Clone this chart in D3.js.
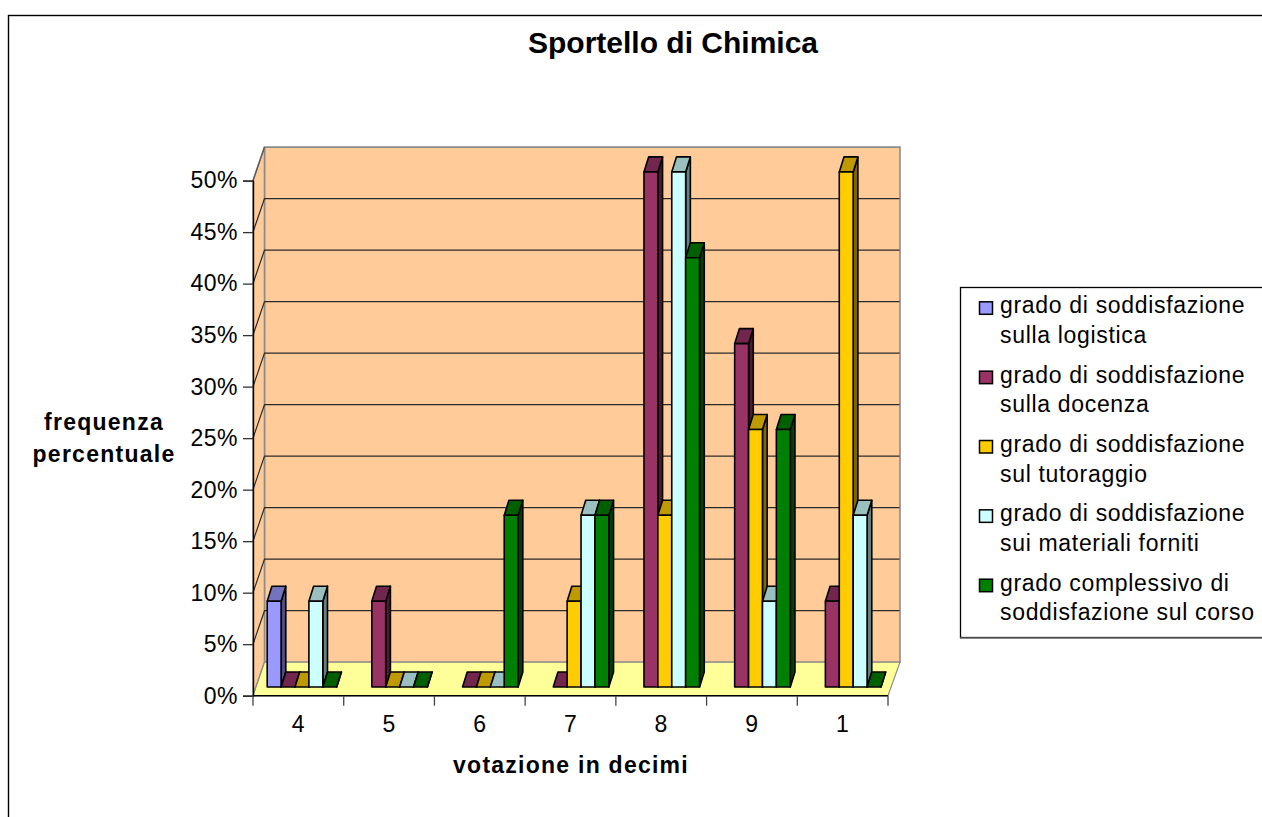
<!DOCTYPE html>
<html><head><meta charset="utf-8">
<script src="https://cdnjs.cloudflare.com/ajax/libs/d3/7.8.5/d3.min.js"></script>
<style>html,body{margin:0;padding:0;background:#fff;overflow:hidden}svg{display:block}text{font-family:"Liberation Sans",Arial,sans-serif;fill:#000}</style>
</head><body><svg id="c" width="1262" height="817"></svg>
<script>
const categories = ["4","5","6","7","8","9","1"];
const seriesNames = [
  ["grado di soddisfazione","sulla logistica"],
  ["grado di soddisfazione","sulla docenza"],
  ["grado di soddisfazione","sul tutoraggio"],
  ["grado di soddisfazione","sui materiali forniti"],
  ["grado complessivo di","soddisfazione sul corso"]];
const seriesColors = ["#9999ff","#993366","#ffcc00","#ccffff","#008000"];
const logistica = [8.33,null,null,null,null,null,null];
const docenza   = [0,8.33,0,0,50,33.33,8.33];
const tutoraggio= [0,0,0,8.33,16.67,25,50];
const materiali = [8.33,0,0,16.67,50,8.33,16.67];
const complessivo=[0,0,16.67,16.67,41.67,25,0];
const seriesValues = [logistica,docenza,tutoraggio,materiali,complessivo];
const yTicks = [0,5,10,15,20,25,30,35,40,45,50];
const title = "Sportello di Chimica";
const xTitle = "votazione in decimi";
const yTitle = ["frequenza","percentuale"];

const svg = d3.select("#c");
const FX0=253, FX1=888, Y0=695.7, Y50=180.6;
const BDX=11.5, BDY=33.5;
const y = d3.scaleLinear().domain([0,50]).range([Y0,Y50]);
const x = d3.scaleBand().domain(categories).range([FX0,FX1]);
const barOff = {x:2.7,y:8.7};
const sx = d3.scaleBand().domain(d3.range(5)).range([11.5,81]);
const dpx=4.7, dpy=15;
const shade=(c,k)=>{const r=d3.rgb(c);return d3.rgb(r.r*k,r.g*k,r.b*k).formatHex();};

svg.append("rect").attr("x",8.5).attr("y",15.5).attr("width",1262).attr("height",900).attr("fill","#fff").attr("stroke","#000").attr("stroke-width",1.4);

const poly=(pts,fill,stroke,sw)=>svg.append("polygon").attr("points",pts.map(p=>p.join(",")).join(" ")).attr("fill",fill).attr("stroke",stroke||"none").attr("stroke-width",sw||0);

const yTop=y(yTicks[yTicks.length-1]);
poly([[FX0+BDX,yTop-BDY],[FX1+BDX+.5,yTop-BDY],[FX1+BDX+.5,Y0-BDY],[FX0+BDX,Y0-BDY]],"#ffcc99","#8c8c8c",1.6);
poly([[FX0,yTop],[FX0+BDX,yTop-BDY],[FX0+BDX,Y0-BDY],[FX0,Y0]],"#ffcc99","#8c8c8c",1.6);
poly([[FX0,Y0],[FX1,Y0],[FX1+BDX+.5,Y0-BDY],[FX0+BDX,Y0-BDY]],"#ffff99","#8c8c8c",1.2);
yTicks.slice(1,-1).forEach(t=>{
  svg.append("path").attr("d",`M${FX0},${y(t)}L${FX0+BDX},${y(t)-BDY}L${FX1+BDX},${y(t)-BDY}`)
    .attr("fill","none").attr("stroke","#2a2a2a").attr("stroke-width",1.2);
});
svg.append("path").attr("d",`M${FX0},${y(50)}L${FX0+BDX},${y(50)-BDY}`).attr("stroke","#555").attr("stroke-width",1.2);

const tickFont=g=>g.selectAll("text").style("font-size","23px").style("letter-spacing","0.45px").style("font-family",'"Liberation Sans"');
const axL=d3.axisLeft(y).tickValues(yTicks).tickFormat(d=>d+"%").tickSize(10).tickPadding(5);
const gy=svg.append("g").attr("transform",`translate(${FX0},0)`).call(axL);
gy.select(".domain").attr("stroke","#000").attr("stroke-width",1.4);
gy.selectAll(".tick line").attr("stroke","#333").attr("stroke-width",1.3);
tickFont(gy);

svg.append("line").attr("x1",FX0).attr("x2",FX1).attr("y1",Y0).attr("y2",Y0).attr("stroke","#000").attr("stroke-width",1.4);
const axB=d3.axisBottom(x).tickSize(0).tickPadding(20);
const gx=svg.append("g").attr("transform",`translate(0,${Y0})`).call(axB);
gx.select(".domain").remove();
tickFont(gx);
d3.range(categories.length+1).forEach(i=>{
  const tx=i<categories.length?x(categories[i]):FX1;
  svg.append("line").attr("x1",tx).attr("x2",tx).attr("y1",Y0).attr("y2",Y0+10).attr("stroke","#444").attr("stroke-width",1.3);
});

const yb=v=>y(v)-barOff.y;
categories.forEach((cat,ci)=>{
  seriesValues.forEach((vals,si)=>{
    const v=vals[ci]; if(v===null) return;
    const c=seriesColors[si];
    const x0=x(cat)+barOff.x+sx(si), x1=x0+sx.bandwidth(), yt=yb(v), ybase=yb(0);
    const g=svg.append("g").attr("stroke","#000").attr("stroke-width",1.6).attr("stroke-linejoin","round");
    const P=(pts,f)=>g.append("polygon").attr("points",pts.map(p=>p.join(",")).join(" ")).attr("fill",f);
    P([[x1,yt],[x1+dpx,yt-dpy],[x1+dpx,ybase-dpy],[x1,ybase]],shade(c,.5));
    P([[x0,yt],[x0+dpx,yt-dpy],[x1+dpx,yt-dpy],[x1,yt]],shade(c,.75));
    if(v>0) P([[x0,yt],[x1,yt],[x1,ybase],[x0,ybase]],c);
  });
});

svg.append("text").attr("x",673).attr("y",53).attr("text-anchor","middle").style("font-size","30px").style("font-weight","bold").text(title);
svg.append("text").attr("x",571).attr("y",773.3).attr("text-anchor","middle").style("font-size","23px").style("letter-spacing","1.25px").style("font-weight","bold").text(xTitle);
yTitle.forEach((t,i)=>svg.append("text").attr("x",104).attr("y",429.5+i*32).attr("text-anchor","middle").style("font-size","23px").style("letter-spacing","1.25px").style("font-weight","bold").text(t));

svg.append("rect").attr("x",960.5).attr("y",287.5).attr("width",310).attr("height",350).attr("fill","#fff").attr("stroke","#000").attr("stroke-width",1.3);
svg.append("line").attr("x1",960).attr("x2",1262).attr("y1",638).attr("y2",638).attr("stroke","#666").attr("stroke-width",1.4);
seriesNames.forEach((lines,i)=>{
  const ly=313.3+i*69.35;
  svg.append("rect").attr("x",979.5).attr("y",ly-11.5).attr("width",13).attr("height",12.5).attr("fill",seriesColors[i]).attr("stroke","#000").attr("stroke-width",1.5);
  lines.forEach((t,j)=>svg.append("text").attr("x",1000).attr("y",ly+j*29.5).style("font-size","23px").style("letter-spacing","0.68px").text(t));
});
</script></body></html>
